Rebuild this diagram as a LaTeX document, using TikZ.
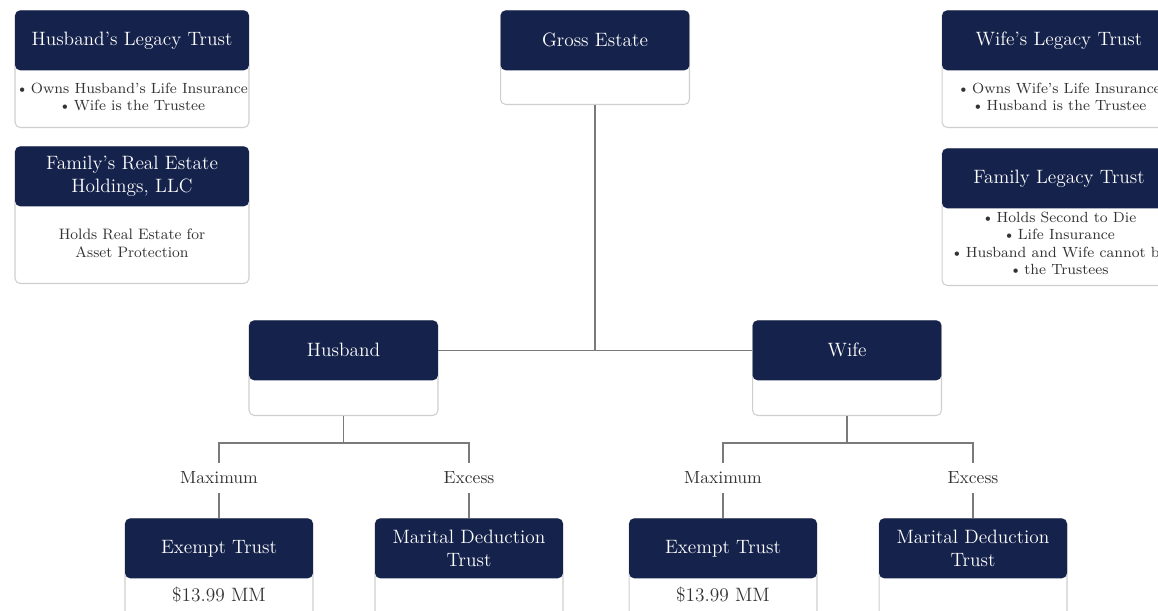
\documentclass[tikz,border=0pt]{standalone}
\usetikzlibrary{positioning}
\definecolor{navy}{HTML}{15224B}
\definecolor{edgegray}{HTML}{CFCFCF}
\definecolor{linkgray}{HTML}{7A7A7A}
\definecolor{textgray}{HTML}{333333}
\newcommand{\itemdot}{\textbullet\hspace{1.5pt}}
\begin{document}
\begin{tikzpicture}[x=0.02cm,y=-0.02cm,
  card/.style={draw=edgegray,fill=white,rounded corners=3pt,line width=0.6pt,anchor=north,inner sep=0pt},
  head/.style={fill=navy,text=white,rounded corners=3pt,anchor=north,inner sep=2pt,
    minimum height=1.2cm,align=center,font=\fontsize{11}{13}\selectfont},
  note/.style={text=textgray,align=center,inner sep=0pt,font=\fontsize{8.4}{10}\selectfont},
  branch/.style={text=textgray,inner sep=0pt,minimum height=0.6cm,font=\fontsize{10}{12}\selectfont},
  link/.style={draw=linkgray,line width=0.7pt}]

  \useasboundingbox (0,0) rectangle (1158,610);
  \clip (0,0) rectangle (1158,610);

  % top row
  \node[card,minimum width=4.68cm,minimum height=2.34cm] (hlt) at (132,10) {};
  \node[head,minimum width=4.68cm] (hlt head) at (hlt.north) {Husband's Legacy Trust};
  \node[note] (hlt note) at (132,97) {\itemdot Owns Husband's Life Insurance\\ \itemdot Wife is the Trustee};

  \node[card,minimum width=4.68cm,minimum height=2.74cm] (fre) at (132,146) {};
  \node[head,minimum width=4.68cm] (fre head) at (fre.north) {Family's Real Estate\\ Holdings, LLC};
  \node[note,font=\fontsize{8.6}{10.5}\selectfont] (fre note) at (132,243) {Holds Real Estate for\\ Asset Protection};

  \node[card,minimum width=3.78cm,minimum height=1.88cm] (gross) at (595,10) {};
  \node[head,minimum width=3.78cm] (gross head) at (gross.north) {Gross Estate};

  \node[card,minimum width=4.68cm,minimum height=2.34cm] (wlt) at (1059,10) {};
  \node[head,minimum width=4.68cm] (wlt head) at (wlt.north) {Wife's Legacy Trust};
  \node[note] (wlt note) at (1059,97) {\itemdot Owns Wife's Life Insurance\\ \itemdot Husband is the Trustee};

  \node[card,minimum width=4.68cm,minimum height=2.74cm] (flt) at (1059,148) {};
  \node[head,minimum width=4.68cm] (flt head) at (flt.north) {Family Legacy Trust};
  \node[note] (flt note) at (1059,243.5) {\itemdot Holds Second to Die\\ \itemdot Life Insurance\\
    \itemdot Husband and Wife cannot be\\ \itemdot the Trustees};

  % spouses
  \node[card,minimum width=3.78cm,minimum height=1.9cm] (hus) at (343.5,320) {};
  \node[head,minimum width=3.78cm] (hus head) at (hus.north) {Husband};
  \node[card,minimum width=3.78cm,minimum height=1.9cm] (wife) at (847,320) {};
  \node[head,minimum width=3.78cm] (wife head) at (wife.north) {Wife};

  % trusts
  \node[card,minimum width=3.76cm,minimum height=2.6cm] (hex) at (219,518) {};
  \node[head,minimum width=3.76cm] (hex head) at (hex.north) {Exempt Trust};
  \node[note,font=\fontsize{11}{13}\selectfont] (hex note) at (219,595) {\$13.99 MM};
  \node[card,minimum width=3.76cm,minimum height=2.6cm] (hmd) at (469,518) {};
  \node[head,minimum width=3.76cm] (hmd head) at (hmd.north) {Marital Deduction\\ Trust};
  \node[card,minimum width=3.76cm,minimum height=2.6cm] (wex) at (723,518) {};
  \node[head,minimum width=3.76cm] (wex head) at (wex.north) {Exempt Trust};
  \node[note,font=\fontsize{11}{13}\selectfont] (wex note) at (723,595) {\$13.99 MM};
  \node[card,minimum width=3.76cm,minimum height=2.6cm] (wmd) at (973,518) {};
  \node[head,minimum width=3.76cm] (wmd head) at (wmd.north) {Marital Deduction\\ Trust};

  % branch labels
  \node[branch] (hmax) at (219,478) {Maximum};
  \node[branch] (hexc) at (469,478) {Excess};
  \node[branch] (wmax) at (723,478) {Maximum};
  \node[branch] (wexc) at (973,478) {Excess};

  \coordinate (hsplit) at (343.5,443);
  \coordinate (wsplit) at (847,443);

  % connectors
  \draw[link] (hus head.east) -- (wife head.west);
  \draw[link] (gross.south) -- (gross.south |- hus head.east);
  \draw[link] (hus.south) -- (hsplit);
  \draw[link] (hmax.north) |- (hsplit) -| (hexc.north);
  \draw[link] (hmax.south) -- (hex head.north);
  \draw[link] (hexc.south) -- (hmd head.north);
  \draw[link] (wife.south) -- (wsplit);
  \draw[link] (wmax.north) |- (wsplit) -| (wexc.north);
  \draw[link] (wmax.south) -- (wex head.north);
  \draw[link] (wexc.south) -- (wmd head.north);
\end{tikzpicture}
\end{document}
